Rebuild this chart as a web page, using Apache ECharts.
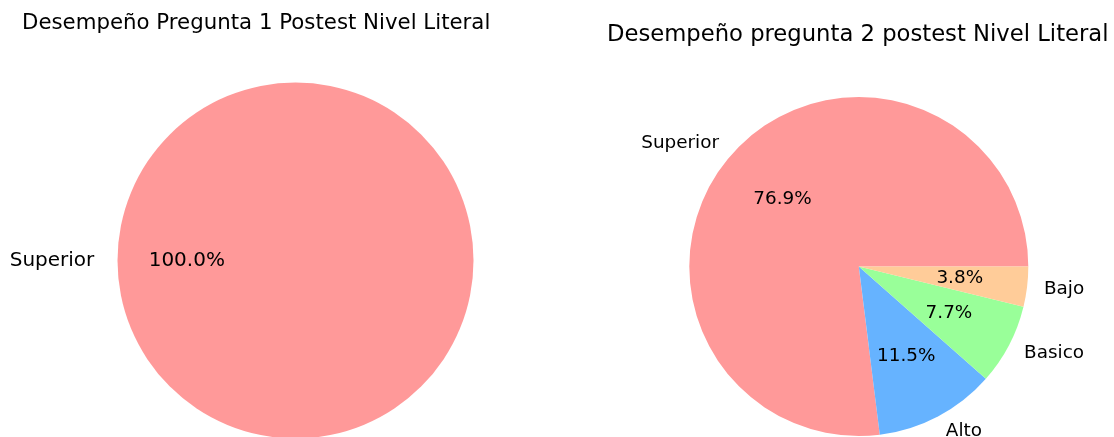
<!DOCTYPE html>
<html>
<head>
<meta charset="utf-8">
<script src="https://cdn.jsdelivr.net/npm/echarts@6/dist/echarts.min.js"></script>
<style>
  html, body { margin: 0; padding: 0; background: #fff; }
  #chart { width: 1114px; height: 437px; }
</style>
</head>
<body>
<div id="chart"></div>
<script>
// pregunta 1
const labels1 = ['Superior'];
const values1 = [100.0];
const colors1 = ['#ff9999'];

// pregunta 2
const labels2 = ['Superior', 'Alto', 'Basico', 'Bajo'];
const values2 = [76.9, 11.5, 7.7, 3.8];
const colors2 = ['#ff9999', '#66b3ff', '#99ff99', '#ffcc99'];

const titles = [
  'Desempeño Pregunta 1 Postest Nivel Literal',
  'Desempeño pregunta 2 postest Nivel Literal'
];

const font = 'DejaVu Sans';

// wedge series + outer name labels
const pieSeries = (names, vals, cols, center, r, fontSize) => ({
  type: 'pie',
  center: center,
  radius: r,
  startAngle: 0,
  clockwise: false,
  avoidLabelOverlap: false,
  silent: true,
  itemStyle: { borderWidth: 0 },
  emphasis: { disabled: true },
  label: {
    show: true,
    position: 'outside',
    formatter: '{b}',
    color: '#000',
    fontFamily: font,
    fontSize: fontSize,
    distanceToLabelLine: 0
  },
  labelLine: { show: false, length: r * 0.1, length2: 0 },
  data: names.map((n, i) => ({ name: n, value: vals[i], itemStyle: { color: cols[i] } }))
});

// transparent copy, only carries the percent labels
const pctSeries = (names, vals, center, rPct, fontSize) => ({
  type: 'pie',
  center: center,
  radius: (rPct - 3) * 2,
  startAngle: 0,
  clockwise: false,
  avoidLabelOverlap: false,
  silent: true,
  z: 3,
  itemStyle: { color: 'rgba(0,0,0,0)', borderWidth: 0 },
  emphasis: { disabled: true },
  label: {
    show: true,
    position: 'inside',
    formatter: (p) => p.value.toFixed(1) + '%',
    color: '#000',
    fontFamily: font,
    fontSize: fontSize
  },
  labelLine: { show: false },
  data: names.map((n, i) => ({ name: n, value: vals[i] }))
});

const myChart = echarts.init(document.getElementById('chart'));
const option = {
  animation: false,
  title: [
    {
      text: titles[0], left: 22, top: 12.6, padding: 0,
      textStyle: { fontFamily: font, fontSize: 21.3, fontWeight: 'normal', color: '#000' }
    },
    {
      text: titles[1], left: 607, top: 24, padding: 0,
      textStyle: { fontFamily: font, fontSize: 22.7, fontWeight: 'normal', color: '#000' }
    }
  ],
  series: [
    Object.assign(pieSeries(labels1, values1, colors1, [295.5, 260.5], 178, 20), {
      labelLine: { show: false, length: 23.2, length2: 0 }
    }),
    pctSeries(labels1, values1, [295.5, 260.5], 108.7, 20),
    pieSeries(labels2, values2, colors2, [858.8, 266.5], 169.5, 18.4),
    pctSeries(labels2, values2, [858.8, 266.5], 101.7, 18.4)
  ]
};
myChart.setOption(option);
</script>
</body>
</html>
